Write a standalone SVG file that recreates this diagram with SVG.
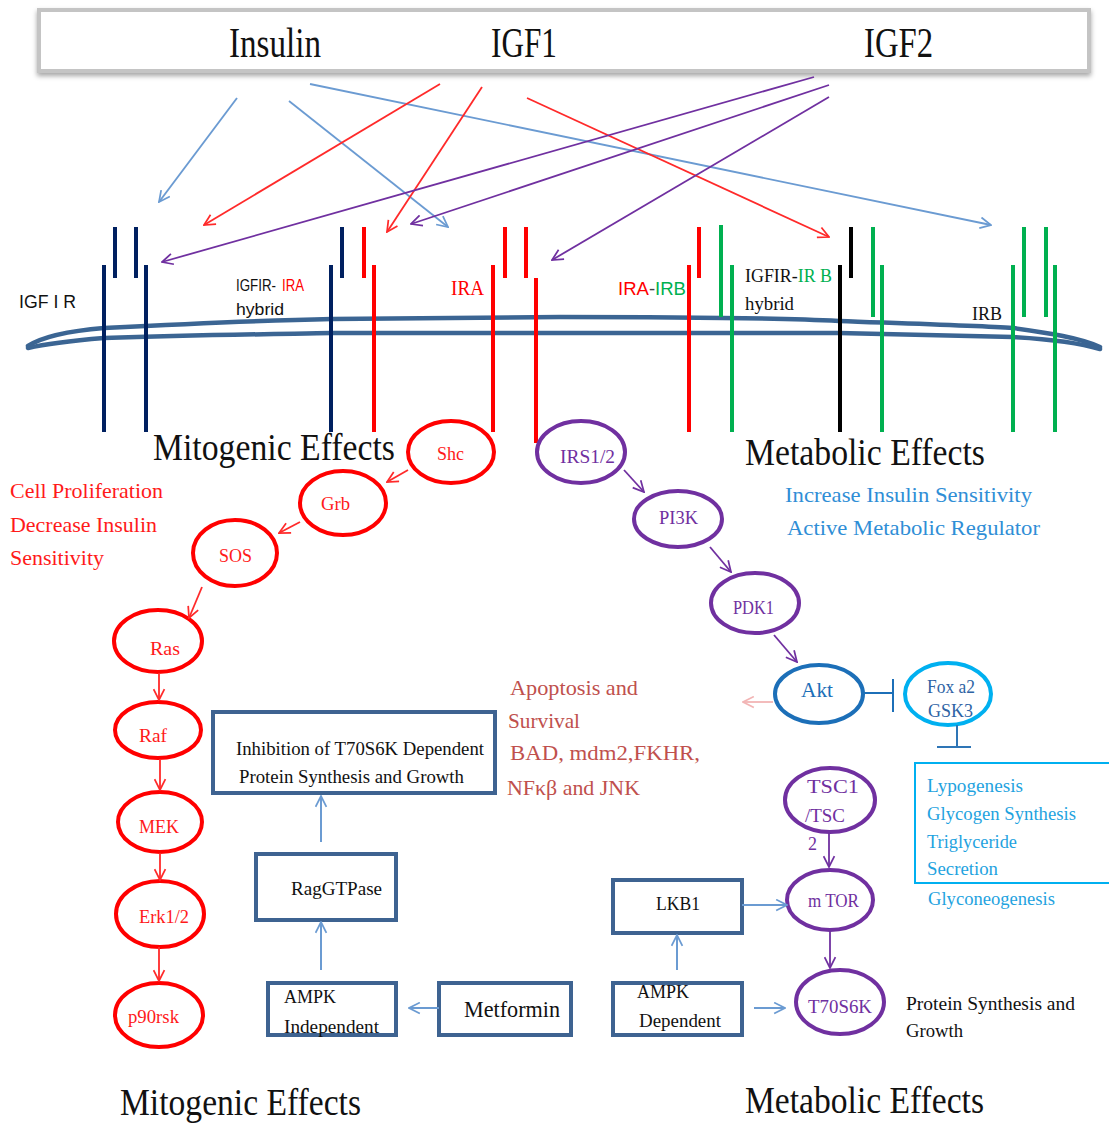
<svg xmlns="http://www.w3.org/2000/svg" width="1109" height="1127" viewBox="0 0 1109 1127">
<style>
text{font-family:"Liberation Serif","Times New Roman",serif;}
.sans{font-family:"Liberation Sans",Arial,sans-serif;}
.big{font-size:42px;fill:#111;}
.eff{font-size:38px;fill:#111;}
.redt{fill:#FF1A1A;}
.purt{fill:#7030A0;}
.blk{fill:#111;}
.bar{stroke-width:4;fill:none;}
.nv{stroke:#002060;}
.rd{stroke:#FF0000;}
.gr{stroke:#00B050;}
.bk{stroke:#000;}
.ell-r{fill:#fff;stroke:#FF0000;stroke-width:4;}
.ell-p{fill:#fff;stroke:#7030A0;stroke-width:4;}
.box{fill:#fff;stroke:#3E6391;stroke-width:4;}
.ln-b{stroke:#6B9BD2;stroke-width:1.8;fill:none;marker-end:url(#mB);}
.ln-r{stroke:#FF2A2A;stroke-width:1.8;fill:none;marker-end:url(#mR);}
.ln-p{stroke:#7030A0;stroke-width:1.8;fill:none;marker-end:url(#mP);}
.ln-bx{stroke:#6B9BD2;stroke-width:2;fill:none;marker-end:url(#mB);}
</style>
<defs>
<filter id="sh" x="-5%" y="-30%" width="110%" height="160%">
<feDropShadow dx="0" dy="3" stdDeviation="2.5" flood-color="#000" flood-opacity="0.35"/>
</filter>
<marker id="mB" viewBox="0 0 12 12" refX="11" refY="6" markerWidth="13" markerHeight="13" markerUnits="userSpaceOnUse" orient="auto"><path d="M1,1 L11,6 L1,11" fill="none" stroke="#6B9BD2" stroke-width="1.6"/></marker>
<marker id="mR" viewBox="0 0 12 12" refX="11" refY="6" markerWidth="13" markerHeight="13" markerUnits="userSpaceOnUse" orient="auto"><path d="M1,1 L11,6 L1,11" fill="none" stroke="#FF2A2A" stroke-width="1.6"/></marker>
<marker id="mP" viewBox="0 0 12 12" refX="11" refY="6" markerWidth="13" markerHeight="13" markerUnits="userSpaceOnUse" orient="auto"><path d="M1,1 L11,6 L1,11" fill="none" stroke="#7030A0" stroke-width="1.6"/></marker>
<marker id="mK" viewBox="0 0 12 12" refX="11" refY="6" markerWidth="13" markerHeight="13" markerUnits="userSpaceOnUse" orient="auto"><path d="M1,1 L11,6 L1,11" fill="none" stroke="#F2B5B5" stroke-width="1.6"/></marker>
</defs>
<rect width="1109" height="1127" fill="#fff"/>

<!-- Ligand header -->
<g id="ligands">
<rect x="39" y="10" width="1050" height="61" fill="#fff" stroke="#c4c4c4" stroke-width="4" filter="url(#sh)"/>
<text x="229" y="57" class="big" textLength="92" lengthAdjust="spacingAndGlyphs">Insulin</text>
<text x="491" y="57" class="big" textLength="66" lengthAdjust="spacingAndGlyphs">IGF1</text>
<text x="864" y="57" class="big" textLength="69" lengthAdjust="spacingAndGlyphs">IGF2</text>
</g>

<!-- Membrane -->
<g id="membrane" fill="none" stroke="#3B6593" stroke-width="4.5" stroke-linecap="round">
<path d="M28,346 C45,335 80,330 104,328 C200,323 280,320 332,319 L560,317 C700,317 800,319 839,321 C920,324 980,326 1013,328 C1050,333 1080,338 1100,347"/>
<path d="M28,348 C45,344 80,340 104,338 C200,335 280,334 332,333 L839,333 C920,335 980,336 1013,337 C1050,339 1080,343 1100,349"/>
</g>

<!-- Receptors -->
<g id="igf1r">
<line class="bar nv" x1="104" y1="265" x2="104" y2="432"/>
<line class="bar nv" x1="146" y1="265" x2="146" y2="432"/>
<line class="bar nv" x1="115" y1="227" x2="115" y2="278"/>
<line class="bar nv" x1="136" y1="227" x2="136" y2="278"/>
<text x="19" y="308" class="sans blk" font-size="18" textLength="57" lengthAdjust="spacingAndGlyphs">IGF I R</text>
</g>
<g id="igfir-ira">
<line class="bar nv" x1="331" y1="265" x2="331" y2="432"/>
<line class="bar nv" x1="342" y1="227" x2="342" y2="278"/>
<line class="bar rd" x1="364" y1="227" x2="364" y2="278"/>
<line class="bar rd" x1="374" y1="265" x2="374" y2="432"/>
<text x="236" y="291" class="sans blk" font-size="16" textLength="40" lengthAdjust="spacingAndGlyphs">IGFIR-</text>
<text x="282" y="291" class="sans" fill="#FF0000" font-size="16" textLength="22" lengthAdjust="spacingAndGlyphs">IRA</text>
<text x="236" y="315" class="sans blk" font-size="17" textLength="48" lengthAdjust="spacingAndGlyphs">hybrid</text>
</g>
<g id="ira">
<line class="bar rd" x1="493" y1="265" x2="493" y2="432"/>
<line class="bar rd" x1="505" y1="227" x2="505" y2="278"/>
<line class="bar rd" x1="526" y1="227" x2="526" y2="278"/>
<line class="bar rd" x1="536" y1="278" x2="536" y2="443"/>
<text x="451" y="295" font-size="20" fill="#FF0000" textLength="33" lengthAdjust="spacingAndGlyphs">IRA</text>
</g>
<g id="ira-irb">
<line class="bar rd" x1="689" y1="265" x2="689" y2="432"/>
<line class="bar rd" x1="699" y1="227" x2="699" y2="278"/>
<line class="bar gr" x1="721" y1="225" x2="721" y2="317"/>
<line class="bar gr" x1="732" y1="265" x2="732" y2="432"/>
<text x="618" y="295" class="sans" font-size="19" textLength="68" lengthAdjust="spacingAndGlyphs"><tspan fill="#FF0000">IRA</tspan><tspan fill="#444">-</tspan><tspan fill="#00B050">IRB</tspan></text>
</g>
<g id="igfir-irb">
<line class="bar bk" x1="840" y1="265" x2="840" y2="432"/>
<line class="bar bk" x1="851" y1="227" x2="851" y2="278"/>
<line class="bar gr" x1="873" y1="227" x2="873" y2="317"/>
<line class="bar gr" x1="882" y1="265" x2="882" y2="432"/>
<text x="745" y="282" font-size="19" textLength="87" lengthAdjust="spacingAndGlyphs"><tspan fill="#111">IGFIR-</tspan><tspan fill="#00B050">IR B</tspan></text>
<text x="745" y="310" font-size="19" class="blk" textLength="49" lengthAdjust="spacingAndGlyphs">hybrid</text>
</g>
<g id="irb">
<line class="bar gr" x1="1013" y1="265" x2="1013" y2="432"/>
<line class="bar gr" x1="1024" y1="227" x2="1024" y2="317"/>
<line class="bar gr" x1="1046" y1="227" x2="1046" y2="317"/>
<line class="bar gr" x1="1055" y1="265" x2="1055" y2="432"/>
<text x="972" y="320" font-size="19" class="blk" textLength="30" lengthAdjust="spacingAndGlyphs">IRB</text>
</g>

<!-- Effect labels -->
<g id="labels">
<text x="153" y="460" class="eff" textLength="242" lengthAdjust="spacingAndGlyphs">Mitogenic Effects</text>
<text x="745" y="465" class="eff" textLength="240" lengthAdjust="spacingAndGlyphs">Metabolic Effects</text>
<text x="120" y="1115" class="eff" textLength="241" lengthAdjust="spacingAndGlyphs">Mitogenic Effects</text>
<text x="745" y="1113" class="eff" textLength="239" lengthAdjust="spacingAndGlyphs">Metabolic Effects</text>
<g fill="#FF1A1A" font-size="22">
<text x="10" y="498" textLength="153" lengthAdjust="spacingAndGlyphs">Cell Proliferation</text>
<text x="10" y="532" textLength="147" lengthAdjust="spacingAndGlyphs">Decrease Insulin</text>
<text x="10" y="565" textLength="94" lengthAdjust="spacingAndGlyphs">Sensitivity</text>
</g>
<g fill="#2F8ED6" font-size="22">
<text x="785" y="502" textLength="247" lengthAdjust="spacingAndGlyphs">Increase  Insulin Sensitivity</text>
<text x="787" y="535" textLength="253" lengthAdjust="spacingAndGlyphs">Active Metabolic Regulator</text>
</g>
<g fill="#C0504D" font-size="22">
<text x="510" y="695" textLength="128" lengthAdjust="spacingAndGlyphs">Apoptosis and</text>
<text x="508" y="728" textLength="72" lengthAdjust="spacingAndGlyphs">Survival</text>
<text x="510" y="760" textLength="190" lengthAdjust="spacingAndGlyphs">BAD, mdm2,FKHR,</text>
<text x="507" y="795" textLength="133" lengthAdjust="spacingAndGlyphs">NFκβ and JNK</text>
</g>
<g fill="#111" font-size="18">
<text x="906" y="1010" textLength="169" lengthAdjust="spacingAndGlyphs">Protein Synthesis  and</text>
<text x="906" y="1037" textLength="57" lengthAdjust="spacingAndGlyphs">Growth</text>
</g>
</g>

<!-- Mitogenic pathway nodes -->
<g id="shc"><ellipse class="ell-r" cx="451" cy="452" rx="43" ry="31"/><text x="437" y="460" font-size="18" class="redt" textLength="27" lengthAdjust="spacingAndGlyphs">Shc</text></g>
<g id="grb"><ellipse class="ell-r" cx="343" cy="503" rx="43" ry="32"/><text x="321" y="510" font-size="18" class="redt" textLength="29" lengthAdjust="spacingAndGlyphs">Grb</text></g>
<g id="sos"><ellipse class="ell-r" cx="235" cy="553" rx="42" ry="33"/><text x="219" y="562" font-size="18" class="redt" textLength="33" lengthAdjust="spacingAndGlyphs">SOS</text></g>
<g id="ras"><ellipse class="ell-r" cx="158" cy="641" rx="44" ry="31"/><text x="150" y="655" font-size="18" class="redt" textLength="30" lengthAdjust="spacingAndGlyphs">Ras</text></g>
<g id="raf"><ellipse class="ell-r" cx="158" cy="730" rx="43" ry="28"/><text x="139" y="742" font-size="18" class="redt" textLength="28" lengthAdjust="spacingAndGlyphs">Raf</text></g>
<g id="mek"><ellipse class="ell-r" cx="160" cy="822" rx="42" ry="30"/><text x="139" y="833" font-size="18" class="redt" textLength="40" lengthAdjust="spacingAndGlyphs">MEK</text></g>
<g id="erk"><ellipse class="ell-r" cx="160" cy="914" rx="44" ry="33"/><text x="139" y="923" font-size="18" class="redt" textLength="50" lengthAdjust="spacingAndGlyphs">Erk1/2</text></g>
<g id="p90rsk"><ellipse class="ell-r" cx="159" cy="1015" rx="44" ry="32"/><text x="128" y="1023" font-size="18" class="redt" textLength="51" lengthAdjust="spacingAndGlyphs">p90rsk</text></g>

<!-- Metabolic pathway nodes -->
<g id="irs"><ellipse class="ell-p" cx="581" cy="452" rx="44" ry="31"/><text x="560" y="463" font-size="18" class="purt" textLength="55" lengthAdjust="spacingAndGlyphs">IRS1/2</text></g>
<g id="pi3k"><ellipse class="ell-p" cx="678" cy="519" rx="44" ry="28"/><text x="659" y="524" font-size="18" class="purt" textLength="39" lengthAdjust="spacingAndGlyphs">PI3K</text></g>
<g id="pdk1"><ellipse class="ell-p" cx="755" cy="603" rx="44" ry="30"/><text x="733" y="614" font-size="18" class="purt" textLength="41" lengthAdjust="spacingAndGlyphs">PDK1</text></g>
<g id="akt"><ellipse cx="819" cy="694" rx="44" ry="29" fill="#fff" stroke="#1C6FB8" stroke-width="4"/><text x="801" y="697" font-size="22" fill="#1C6FB8" textLength="32" lengthAdjust="spacingAndGlyphs">Akt</text></g>
<g id="foxa2"><ellipse cx="948" cy="694" rx="43" ry="31" fill="#fff" stroke="#00B0F0" stroke-width="4"/><text x="927" y="693" font-size="18" fill="#2E63A4" textLength="48" lengthAdjust="spacingAndGlyphs">Fox a2</text><text x="928" y="717" font-size="18" fill="#2E63A4" textLength="45" lengthAdjust="spacingAndGlyphs">GSK3</text></g>
<g id="tsc"><ellipse class="ell-p" cx="830" cy="800" rx="45" ry="32"/><text x="807" y="793" font-size="18" class="purt" textLength="52" lengthAdjust="spacingAndGlyphs">TSC1</text><text x="805" y="822" font-size="18" class="purt" textLength="40" lengthAdjust="spacingAndGlyphs">/TSC</text><text x="808" y="850" font-size="18" class="purt">2</text></g>
<g id="mtor"><ellipse class="ell-p" cx="830" cy="900" rx="43" ry="30"/><text x="808" y="907" font-size="18" class="purt" textLength="51" lengthAdjust="spacingAndGlyphs">m TOR</text></g>
<g id="t70s6k"><ellipse class="ell-p" cx="840" cy="1002" rx="44" ry="32"/><text x="808" y="1013" font-size="18" class="purt" textLength="64" lengthAdjust="spacingAndGlyphs">T70S6K</text></g>

<!-- Outcome box -->
<g id="metabolic-outcomes">
<rect x="915" y="763" width="198" height="120" fill="none" stroke="#00B0F0" stroke-width="2"/>
<g fill="#1FA3E0" font-size="19">
<text x="927" y="792" textLength="96" lengthAdjust="spacingAndGlyphs">Lypogenesis</text>
<text x="927" y="820" textLength="149" lengthAdjust="spacingAndGlyphs">Glycogen Synthesis</text>
<text x="927" y="848" textLength="90" lengthAdjust="spacingAndGlyphs">Triglyceride</text>
<text x="927" y="875" textLength="71" lengthAdjust="spacingAndGlyphs">Secretion</text>
<text x="928" y="905" textLength="127" lengthAdjust="spacingAndGlyphs">Glyconeogenesis</text>
</g>
</g>

<!-- Boxes -->
<g id="inhibition-box"><rect class="box" x="213" y="712" width="282" height="81"/><text x="236" y="755" font-size="19" class="blk" textLength="248" lengthAdjust="spacingAndGlyphs">Inhibition of T70S6K Dependent</text><text x="239" y="783" font-size="19" class="blk" textLength="225" lengthAdjust="spacingAndGlyphs">Protein Synthesis and Growth</text></g>
<g id="raggtpase"><rect class="box" x="256" y="854" width="140" height="66"/><text x="291" y="895" font-size="19" class="blk" textLength="91" lengthAdjust="spacingAndGlyphs">RagGTPase</text></g>
<g id="ampk-independent"><rect class="box" x="268" y="983" width="128" height="52"/><text x="284" y="1003" font-size="19" class="blk" textLength="52" lengthAdjust="spacingAndGlyphs">AMPK</text><text x="284" y="1033" font-size="19" class="blk" textLength="95" lengthAdjust="spacingAndGlyphs">Independent</text></g>
<g id="metformin"><rect class="box" x="439" y="983" width="132" height="52"/><text x="464" y="1017" font-size="24" class="blk" textLength="96" lengthAdjust="spacingAndGlyphs">Metformin</text></g>
<g id="lkb1"><rect class="box" x="613" y="880" width="129" height="53"/><text x="656" y="910" font-size="19" class="blk" textLength="44" lengthAdjust="spacingAndGlyphs">LKB1</text></g>
<g id="ampk-dependent"><rect class="box" x="613" y="983" width="129" height="52"/><text x="637" y="998" font-size="19" class="blk" textLength="52" lengthAdjust="spacingAndGlyphs">AMPK</text><text x="639" y="1027" font-size="19" class="blk" textLength="82" lengthAdjust="spacingAndGlyphs">Dependent</text></g>

<!-- Connectors -->
<g id="connectors">
<line class="ln-b" x1="237" y1="98" x2="159" y2="202"/>
<line class="ln-b" x1="289" y1="101" x2="448" y2="227"/>
<line class="ln-b" x1="310" y1="84" x2="991" y2="225"/>
<line class="ln-r" x1="440" y1="84" x2="204" y2="225"/>
<line class="ln-r" x1="482" y1="87" x2="387" y2="232"/>
<line class="ln-r" x1="527" y1="98" x2="829" y2="237"/>
<line class="ln-p" x1="814" y1="77" x2="162" y2="262"/>
<line class="ln-p" x1="829" y1="85" x2="411" y2="224"/>
<line class="ln-p" x1="829" y1="97" x2="552" y2="260"/>

<line class="ln-r" x1="408" y1="470" x2="387" y2="482"/>
<line class="ln-r" x1="300" y1="522" x2="279" y2="533"/>
<line class="ln-r" x1="202" y1="587" x2="189" y2="618"/>
<line class="ln-r" x1="159" y1="673" x2="159" y2="700"/>
<line class="ln-r" x1="160" y1="759" x2="160" y2="790"/>
<line class="ln-r" x1="160" y1="853" x2="160" y2="880"/>
<line class="ln-r" x1="159" y1="947" x2="159" y2="981"/>

<line class="ln-p" x1="624" y1="470" x2="644" y2="492"/>
<line class="ln-p" x1="710" y1="547" x2="731" y2="572"/>
<line class="ln-p" x1="774" y1="635" x2="797" y2="662"/>
<line class="ln-p" x1="829" y1="833" x2="829" y2="867"/>
<line class="ln-p" x1="830" y1="931" x2="830" y2="968"/>

<line x1="773" y1="702" x2="743" y2="702" stroke="#F2B5B5" stroke-width="1.8" marker-end="url(#mK)"/>
<g stroke="#1C6FB8" stroke-width="2" fill="none">
<line x1="863" y1="693" x2="893" y2="693"/>
<line x1="893" y1="679" x2="893" y2="712"/>
</g>
<g stroke="#2E75B6" stroke-width="2" fill="none">
<line x1="957" y1="725" x2="957" y2="747"/>
<line x1="937" y1="747" x2="971" y2="747"/>
</g>

<line class="ln-bx" x1="321" y1="842" x2="321" y2="796"/>
<line class="ln-bx" x1="321" y1="970" x2="321" y2="922"/>
<line class="ln-bx" x1="439" y1="1008" x2="409" y2="1008"/>
<line class="ln-bx" x1="677" y1="970" x2="677" y2="935"/>
<line class="ln-bx" x1="742" y1="905" x2="787" y2="905"/>
<line class="ln-bx" x1="754" y1="1008" x2="785" y2="1008"/>
</g>
</svg>
